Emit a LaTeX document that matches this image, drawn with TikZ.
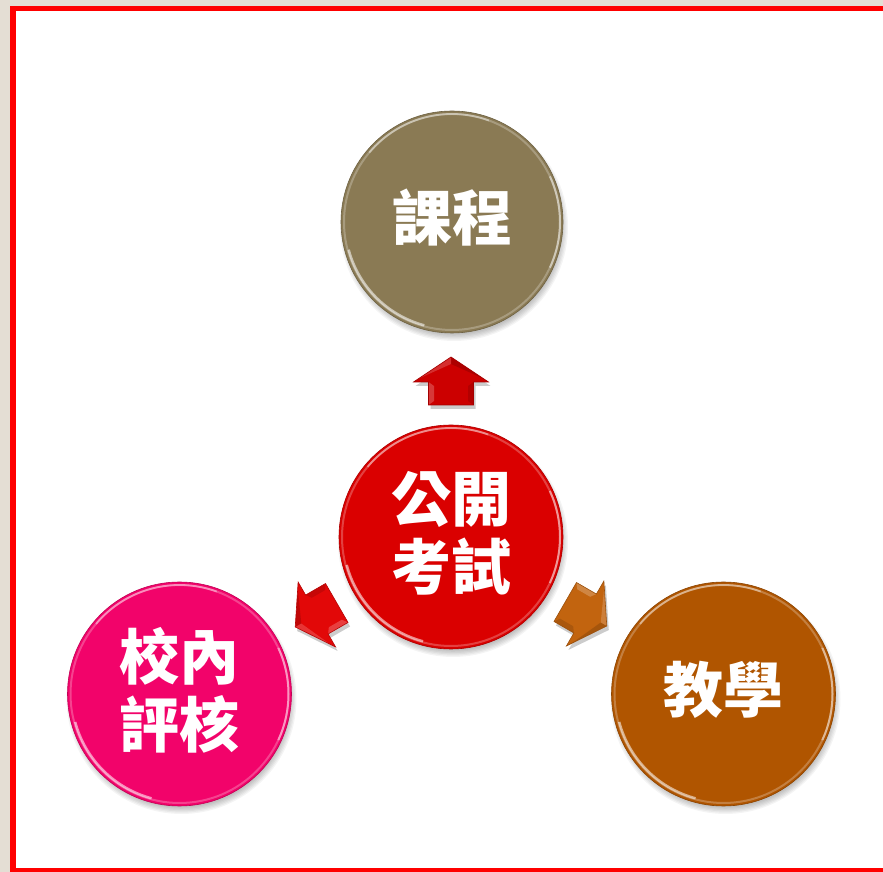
\documentclass[tikz,border=0pt]{standalone}
\usepackage{fontspec}
\newfontfamily\cjk{Noto Sans CJK TC}
\definecolor{bgbeige}{HTML}{E4DED4}
\definecolor{frame}{HTML}{FF0000}
\definecolor{cKecheng}{HTML}{8A7A54}
\definecolor{cExam}{HTML}{DA0000}
\definecolor{cSchool}{HTML}{F2036A}
\definecolor{cTeach}{HTML}{B05500}
\definecolor{aUp}{HTML}{CC0000}
\definecolor{aLeft}{HTML}{E20808}
\definecolor{aRight}{HTML}{C2640F}
\tikzset{
  balltext/.style={font=\cjk\bfseries\fontsize{60}{68}\selectfont, align=center, inner sep=0pt, text=white},
}
\newcommand\myball[6]{% name, x, y, colour, text, radius
  \foreach \k in {0,...,5}
    \fill[black,opacity=0.045] (#2+2,#3-5) circle ({#6+3-\k*1.3});
  \fill[#4] (#2,#3) circle (#6);
  \draw[#4!80!black, line width=0.6] (#2,#3) circle (#6);
  \draw[white, opacity=0.25, line width=2] (#2,#3) circle ({#6-3});
  \draw[white, opacity=0.55, line width=2.5] ([shift={(195:#6-4)}]#2,#3) arc (195:255:#6-4);
  \draw[white, opacity=0.45, line width=2] ([shift={(-25:#6-3)}]#2,#3) arc (-25:25:#6-3);
  \draw[white, opacity=0.4, line width=1.8] ([shift={(70:#6-3)}]#2,#3) arc (70:140:#6-3);
  \node[balltext] (#1) at (#2,#3+4) {#5};
}
\newcommand\myarrow[5]{% name, x, y, angle, colour
  \begin{scope}[shift={(#2+2,#3-4)},rotate=#4]
    \fill[black,opacity=0.2] (24,0) -- (-1,37.5) -- (-1,22.5) -- (-24,22.5) -- (-24,-22.5) -- (-1,-22.5) -- (-1,-37.5) -- cycle;
  \end{scope}
  \begin{scope}[shift={(#2,#3)},rotate=#4]
    \coordinate (#1) at (0,0);
    \fill[#5] (24,0) -- (-1,37.5) -- (-1,22.5) -- (-24,22.5) -- (-24,-22.5) -- (-1,-22.5) -- (-1,-37.5) -- cycle;
    \fill[white,opacity=0.22] (-1,22.5) -- (-24,22.5) -- (-20,17) -- (-5,17) -- cycle;
    \fill[white,opacity=0.18] (24,0) -- (-1,37.5) -- (3,31) -- (17,0) -- cycle;
    \fill[black,opacity=0.15] (24,0) -- (-1,-37.5) -- (3,-31) -- (17,0) -- cycle;
    \fill[black,opacity=0.12] (-24,-22.5) -- (-1,-22.5) -- (-5,-17) -- (-20,-17) -- cycle;
    \draw[#5!80!black, line width=0.6] (24,0) -- (-1,37.5) -- (-1,22.5) -- (-24,22.5) -- (-24,-22.5) -- (-1,-22.5) -- (-1,-37.5) -- cycle;
  \end{scope}
}
\begin{document}
\begin{tikzpicture}[x=1pt,y=1pt]
\useasboundingbox (0,0) rectangle (883,872);
\fill[bgbeige] (0,0) rectangle (883,872);
\fill[white] (13,1.5) rectangle (900,863.5);
\draw[frame, line width=5.5] (13,1.5) rectangle (900,863.5);

\myarrow{arrUp}{451}{491}{90}{aUp}
\myarrow{arrLeft}{316}{257}{210}{aLeft}
\myarrow{arrRight}{586}{258}{-30}{aRight}

\myball{kecheng}{452}{650}{cKecheng}{課程}{111}
\myball{exam}{451}{335}{cExam}{公開\\考試}{112}
\myball{school}{179.5}{178}{cSchool}{校內\\評核}{112}
\myball{teach}{723.5}{178}{cTeach}{教學}{112}
\end{tikzpicture}
\end{document}
